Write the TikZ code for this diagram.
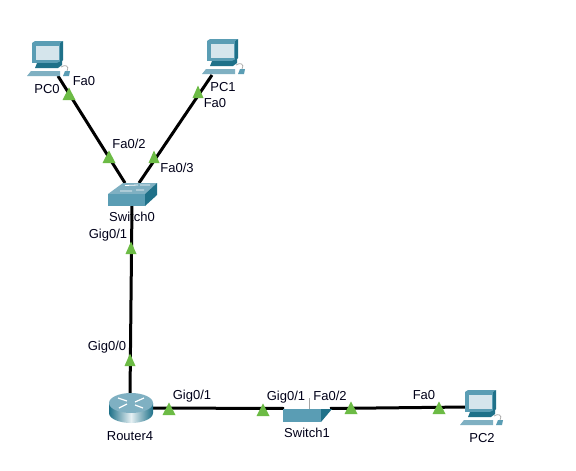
\documentclass[tikz,border=0pt]{standalone}
\usepackage{fontspec}
\setmainfont{Liberation Sans}
\definecolor{teal1}{HTML}{5A9DB4}
\definecolor{teal2}{HTML}{1F7189}
\definecolor{teal3}{HTML}{7FB0C2}
\definecolor{screen}{HTML}{D5E5EC}
\definecolor{linkgreen}{HTML}{6CBB45}
\tikzset{
  lbl/.style={font=\fontsize{13}{15}\selectfont,text=black!90!blue,inner sep=0pt,outer sep=0pt},
  link/.style={line width=3pt,black},
  pcdev/.pic={
    \fill[teal1] (0,2)--(3,0)--(31,0)--(28,2)--cycle;
    \fill[teal2] (28,2)--(31,0)--(31,19)--(28,22)--cycle;
    \fill[teal1] (0,2) rectangle (28,22);
    \fill[screen] (3.5,4.5) rectangle (26.5,19);
    \fill[teal2] (5,22)--(25,22)--(30,19.5)--(30,24)--(26,27)--(3,27)--cycle;
    \fill[teal3] (-5,35)--(-1,30)--(28,30)--(28,35)--cycle;
    \draw[black!35,line width=.7pt] (29,26) .. controls (33,23) and (38,25) .. (35,30);
    \fill[teal1] (31,35)--(33,30)--(38,30)--(37,35)--cycle;
  },
  swzero/.pic={
    \fill[teal3] (0,11)--(15,0)--(49,0)--(37,11)--cycle;
    \fill[teal1] (0,11) rectangle (37,23);
    \fill[teal2] (37,11)--(49,0)--(49,12)--(37,23)--cycle;
    \draw[white,line width=.8pt] (17,2.5)--(30,2) (32,2)--(42,2) (12,8)--(24,8) (28,7)--(36,7);
  },
  swone/.pic={
    \fill[teal1] (0,0) rectangle (38,13);
    \fill[teal2] (38,0)--(49,0)--(38,13)--cycle;
    \draw[black!35,line width=.7pt] (26,-11)--(26,0);
  },
  routerdev/.pic={
    \shade[left color=teal2,right color=teal2,middle color=white!85!teal1]
      (-22,0) -- (-22,10) arc[start angle=180,end angle=0,x radius=22,y radius=10] -- (22,0) -- cycle;
    \fill[teal3] (0,0) ellipse[x radius=22,y radius=10];
    \draw[white,line width=1.2pt] (-13,-5)--(-4,-2) (13,-5)--(4,-1) (-12,5)--(-4,1) (12,5)--(4,2) ;
  },
  portmark/.pic={\fill[linkgreen] (0,-6.5)--(6.5,6)--(-6.5,6)--cycle;},
  portsmall/.pic={\fill[linkgreen] (0,-6.5)--(5.5,6)--(-5.5,6)--cycle;}
}
\begin{document}
\begin{tikzpicture}[x=1pt,y=-1pt]
\useasboundingbox[fill=white] (0,0) rectangle (576,471);
% anchors
\coordinate (pc0) at (58,76);
\coordinate (pc1) at (212,75);
\coordinate (sw0a) at (125,183);
\coordinate (sw0b) at (139,183);
\coordinate (sw0c) at (132,205);
\coordinate (r4a) at (130,395);
\coordinate (r4b) at (150,408);
\coordinate (sw1a) at (284,408.5);
\coordinate (sw1b) at (330,408.5);
\coordinate (pc2) at (467,407);
% labels beneath the links
\node[lbl] (lsw0) at (132,217) {Switch0};
\node[lbl] (lpc1) at (223,87) {PC1};
\node[lbl] (lpc1f) at (215,103) [fill=white,inner sep=1pt] {Fa0};
% links
\draw[link] (pc0)--(sw0a);
\draw[link] (pc1)--(sw0b);
\draw[link] (sw0c)--(r4a);
\draw[link] (r4b)--(sw1a);
\draw[link] (sw1b)--(pc2);
% devices
\pic at (32,41) {pcdev};
\pic at (207,39) {pcdev};
\pic at (465,390) {pcdev};
\pic at (108,183) {swzero};
\pic at (283,409) {swone};
\pic at (131,403) {routerdev};
% port marks
\pic at (69,94) {portmark};
\pic at (109,157) {portmark};
\pic at (154,157) {portsmall};
\pic at (198,92) {portsmall};
\pic at (131,248) {portsmall};
\pic at (130,360) {portsmall};
\pic at (169,409) {portmark};
\pic at (263,410) {portmark};
\pic at (351,408) {portmark};
\pic at (439,408) {portmark};
% labels
\node[lbl] (lpc0) at (47,89) {PC0};
\node[lbl] (lpc0f) at (84,81) {Fa0};
\node[lbl] (ls2) at (129,144) {Fa0/2};
\node[lbl] (ls3) at (177,168) {Fa0/3};
\node[lbl] (lsg) at (108,235) {Gig0/1};
\node[lbl] (lrg0) at (107,347) {Gig0/0};
\node[lbl] (lr4) at (130,436) {Router4};
\node[lbl] (lrg1) at (192,396) {Gig0/1};
\node[lbl] (lsg1) at (286,397) {Gig0/1};
\node[lbl] (lsf2) at (330,396) {Fa0/2};
\node[lbl] (lsw1) at (307,433) {Switch1};
\node[lbl] (lpc2f) at (424,395) {Fa0};
\node[lbl] (lpc2) at (482,438) {PC2};
\end{tikzpicture}
\end{document}
